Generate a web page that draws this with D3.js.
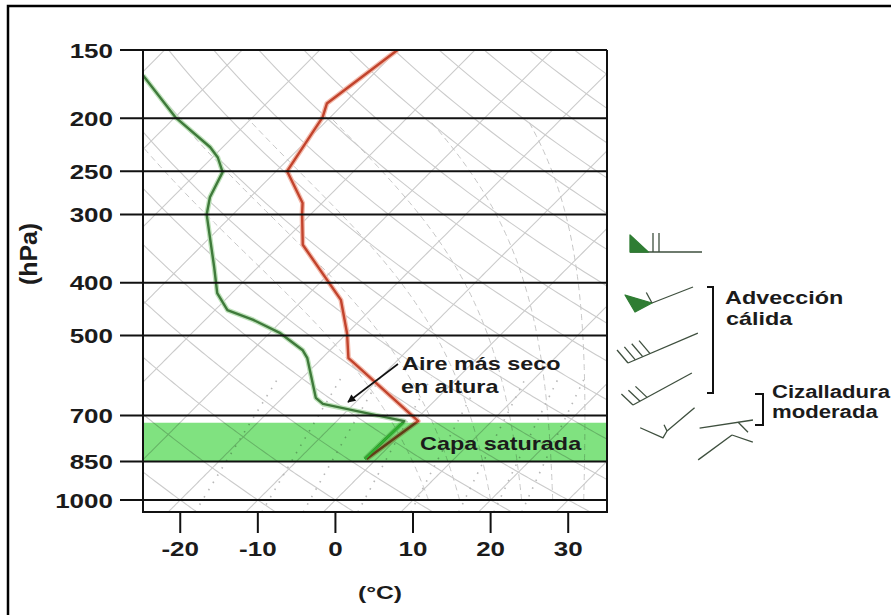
<!DOCTYPE html>
<html>
<head>
<meta charset="utf-8">
<script src="https://cdnjs.cloudflare.com/ajax/libs/d3/7.8.5/d3.min.js"></script>
<style>
body { margin: 0; background: #fff; }
svg text { font-family: "Liberation Sans", Arial, Helvetica, sans-serif; font-weight: bold; fill: #1b1b1b; }
</style>
</head>
<body>
<div id="main"></div>
<script>
const ctx = {
    width: 891,
    height: 615,
    left: 143, right: 607, top: 50, bottom: 512,
    sx: 1.3   // el texto original esta estirado en horizontal
};

// ejes
const pressureLevels = [150, 200, 250, 300, 400, 500, 700, 850, 1000];
const tempTicks = [-20, -10, 0, 10, 20, 30];

// sondeo: temperatura (hPa, °C)
const tempP = [150, 188, 199, 250, 286, 300, 341, 430, 495, 550, 561, 717, 841];
const tempT = [-50.0, -52.2, -51.0, -48.6, -42.5, -41.1, -37.1, -25.1, -20.0, -16.6, -15.3, 0.5, -1.3];

// sondeo: punto de rocio (hPa, °C)
const dewP = [167, 199, 226, 236, 251, 279, 300, 374, 418, 449, 468, 495, 532, 550, 650, 667, 717, 841];
const dewT = [-79.5, -70.0, -61.6, -59.3, -56.8, -55.2, -53.4, -45.7, -41.9, -38.4, -33.8, -28.6, -23.5, -21.9, -15.7, -14.0, -1.3, -1.5];

// capa saturada (hPa)
const saturatedLayer = [722, 850];

// fondo del diagrama
const isotherms = d3.range(-140, 50, 10);
const dryAdiabats = d3.range(-60, 200, 10);      // theta en °C
const moistAdiabats = [12, 16, 20, 24, 28, 32];   // °C a 1000 hPa
const mixingRatios = [1, 2, 3, 5, 8, 12, 16, 20]; // g/kg

// barbas de viento: cola, angulo del asta, largo, y trazos [angulo relativo, largo]
const barbs = [
    {x: 630, y: 252, ang: 0, len: 72, feats: [
        {at: 0, segs: [[-90, 17], [43, 25]], fill: true},
        {at: 23, segs: [[-90, 19]]}, {at: 29, segs: [[-90, 19]]}]},
    {x: 652, y: 303, ang: -21.3, len: 44, feats: [
        {at: 0, segs: [[173.4, 19.2], [-99.2, 19.7]], fill: true},
        {at: 0, segs: [[-97, 12]]}]},
    {x: 628, y: 363, ang: -23.2, len: 76, feats: [
        {at: 0, segs: [[-107, 17]]}, {at: 8, segs: [[-107, 17]]},
        {at: 16, segs: [[-107, 17]]}, {at: 24, segs: [[-107, 17]]}]},
    {x: 633, y: 405, ang: -28.5, len: 67, feats: [
        {at: 0, segs: [[-108, 16]]}, {at: 8, segs: [[-108, 16]]}, {at: 16, segs: [[-108, 16]]}]},
    {x: 667, y: 431, ang: -40, len: 36, feats: [
        {at: 0, segs: [[160, 8], [-116, 25]]}, {at: 0, segs: [[-75, 7]]}]},
    {x: 753, y: 420, ang: 171.4, len: 54, feats: [
        {at: 15, segs: [[-126, 14]]}]},
    {x: 732, y: 435, ang: 143.7, len: 42, feats: [
        {at: 0, segs: [[-125, 22]]}]}
];

function createViz() {
    const svg = d3.select("#main").append("svg")
        .attr("width", ctx.width)
        .attr("height", ctx.height);

    const x = d3.scaleLinear().domain([-24.8, 35]).range([ctx.left, ctx.right]);
    const y = d3.scaleLog().domain([150, 1000]).range([ctx.top, 500]);
    const pBottom = y.invert(ctx.bottom);

    // skew-T: isotermas a 45 grados
    const skewX = (t, p) => x(t) + (y(1000) - y(p));

    svg.append("defs").append("clipPath").attr("id", "plotClip")
        .append("rect")
        .attr("x", ctx.left).attr("y", ctx.top)
        .attr("width", ctx.right - ctx.left).attr("height", ctx.bottom - ctx.top);
    svg.select("defs").append("clipPath").attr("id", "bandClip")
        .append("rect")
        .attr("x", ctx.left).attr("y", y(saturatedLayer[0]))
        .attr("width", ctx.right - ctx.left).attr("height", y(saturatedLayer[1]) - y(saturatedLayer[0]));

    svg.append("rect").attr("x", 8).attr("y", 6).attr("width", 1000).attr("height", 1000)
        .attr("fill", "#fff").attr("stroke", "#000").attr("stroke-width", 2.5);

    const plot = svg.append("g").attr("clip-path", "url(#plotClip)");
    const line = d3.line().x(d => skewX(d.t, d.p)).y(d => y(d.p));
    const pSteps = d3.range(pBottom, 140, -5);

    // isotermas
    plot.selectAll(".iso").data(isotherms).enter().append("path")
        .attr("d", t => line(pSteps.map(p => ({t: t, p: p}))))
        .attr("fill", "none").attr("stroke", "#cbcbcb").attr("stroke-width", 1.1);

    // adiabaticas secas
    plot.selectAll(".dry").data(dryAdiabats).enter().append("path")
        .attr("d", th => line(pSteps.map(p => ({t: (th + 273.15) * Math.pow(p / 1000, 0.286) - 273.15, p: p}))))
        .attr("fill", "none").attr("stroke", "#cbcbcb").attr("stroke-width", 1.1);

    // adiabaticas saturadas
    function moistLapse(T, p) {
        const Rd = 287.04, cp = 1005.7, Lv = 2.501e6, eps = 0.622;
        const tc = T - 273.15;
        const es = 6.112 * Math.exp(17.67 * tc / (tc + 243.5));
        const rs = eps * es / (p - es);
        return (1 / p) * (Rd * T + Lv * rs) / (cp + (Lv * Lv * rs * eps) / (Rd * T * T));
    }
    plot.selectAll(".moist").data(moistAdiabats).enter().append("path")
        .attr("d", t0 => {
            let T = t0 + 273.15, pts = [];
            for (let p = 1000; p >= 200; p -= 5) {
                pts.push({t: T - 273.15, p: p});
                T -= 5 * moistLapse(T, p);
            }
            return line(pts);
        })
        .attr("fill", "none").attr("stroke", "#c6c6c6").attr("stroke-width", 1)
        .attr("stroke-dasharray", "6,4");

    // razon de mezcla
    plot.selectAll(".mix").data(mixingRatios).enter().append("path")
        .attr("d", w => line(d3.range(pBottom, 595, -5).map(p => {
            const es = (w / 1000) * p / (0.622 + w / 1000);
            const l = Math.log(es / 6.112);
            return {t: 243.5 * l / (17.67 - l), p: p};
        })))
        .attr("fill", "none").attr("stroke", "#b8b8b8").attr("stroke-width", 1.6)
        .attr("stroke-dasharray", "1.5,7");

    // perfiles
    const tempData = tempP.map((p, i) => ({p: p, t: tempT[i]}));
    const dewData = dewP.map((p, i) => ({p: p, t: dewT[i]}));

    plot.append("path").attr("d", line(dewData)).attr("fill", "none")
        .attr("stroke", "#bfe2bb").attr("stroke-width", 5).attr("stroke-linejoin", "round");
    plot.append("path").attr("d", line(tempData)).attr("fill", "none")
        .attr("stroke", "#f3bcae").attr("stroke-width", 5).attr("stroke-linejoin", "round");
    plot.append("path").attr("d", line(dewData)).attr("fill", "none")
        .attr("stroke", "#3f7a3b").attr("stroke-width", 2.4).attr("stroke-linejoin", "round");
    plot.append("path").attr("d", line(tempData)).attr("fill", "none")
        .attr("stroke", "#c2432c").attr("stroke-width", 2.4).attr("stroke-linejoin", "round");

    // capa saturada
    plot.append("rect")
        .attr("x", ctx.left).attr("y", y(saturatedLayer[0]))
        .attr("width", ctx.right - ctx.left)
        .attr("height", y(saturatedLayer[1]) - y(saturatedLayer[0]))
        .attr("fill", "rgb(128,226,128)")
        .style("mix-blend-mode", "multiply");
    plot.append("path").attr("d", line(dewData)).attr("fill", "none")
        .attr("clip-path", "url(#bandClip)")
        .attr("stroke", "#2fb02f").attr("stroke-width", 2.2);

    // isobaras
    svg.selectAll(".isobar").data(pressureLevels).enter().append("line")
        .attr("x1", 120).attr("x2", ctx.right)
        .attr("y1", d => y(d)).attr("y2", d => y(d))
        .attr("stroke", "#111").attr("stroke-width", 2);

    // marco del diagrama
    svg.append("path")
        .attr("d", `M${ctx.left},${ctx.top}V${ctx.bottom}H${ctx.right}V${ctx.top}`)
        .attr("fill", "none").attr("stroke", "#111").attr("stroke-width", 2);

    // ticks eje x
    svg.selectAll(".xtick").data(tempTicks).enter().append("line")
        .attr("x1", d => x(d)).attr("x2", d => x(d))
        .attr("y1", ctx.bottom).attr("y2", ctx.bottom + 21)
        .attr("stroke", "#111").attr("stroke-width", 2);

    function label(sel, px, py, txt, anchor, size, sx) {
        return sel.append("text")
            .attr("transform", `translate(${px},${py}) scale(${sx || ctx.sx},1)`)
            .attr("text-anchor", anchor)
            .style("font-size", size + "px")
            .text(txt);
    }

    pressureLevels.forEach(p => label(svg, 113, y(p) + 7.5, p, "end", 20));
    tempTicks.forEach(t => label(svg, x(t), 556, t, "middle", 20));
    label(svg, 380, 599, "(°C)", "middle", 19);

    svg.append("text")
        .attr("transform", "translate(37,254) rotate(-90) scale(1.38,1.3)")
        .attr("text-anchor", "middle").style("font-size", "18px")
        .text("(hPa)");

    // anotaciones
    label(svg, 402, 370, "Aire más seco", "start", 18);
    label(svg, 401, 393, "en altura", "start", 18);
    label(svg, 420, 450, "Capa saturada", "start", 18);
    label(svg, 725, 304, "Advección", "start", 18);
    label(svg, 726, 325, "cálida", "start", 18);
    label(svg, 772, 398, "Cizalladura", "start", 18, 1.23);
    label(svg, 772, 418, "moderada", "start", 18, 1.23);

    svg.append("defs").append("marker").attr("id", "arrow")
        .attr("viewBox", "0 0 10 10").attr("refX", 9).attr("refY", 5)
        .attr("markerWidth", 10).attr("markerHeight", 8).attr("markerUnits", "userSpaceOnUse")
        .attr("orient", "auto")
        .append("path").attr("d", "M0,0L10,5L0,10Z").attr("fill", "#111");
    svg.append("line")
        .attr("x1", 398).attr("y1", 364).attr("x2", 348).attr("y2", 402)
        .attr("stroke", "#111").attr("stroke-width", 1.6)
        .attr("marker-end", "url(#arrow)");

    // corchetes
    svg.append("path").attr("d", "M707,287H713V393H707")
        .attr("fill", "none").attr("stroke", "#111").attr("stroke-width", 2);
    svg.append("path").attr("d", "M755,394H763V425H755")
        .attr("fill", "none").attr("stroke", "#111").attr("stroke-width", 2);

    // barbas de viento
    const rad = Math.PI / 180;
    barbs.forEach(b => {
        const ux = Math.cos(b.ang * rad), uy = Math.sin(b.ang * rad);
        const g = svg.append("g");
        g.append("line")
            .attr("x1", b.x).attr("y1", b.y)
            .attr("x2", b.x + b.len * ux).attr("y2", b.y + b.len * uy)
            .attr("stroke", "#3e4f3e").attr("stroke-width", 1.3);
        b.feats.forEach(f => {
            let px = b.x + f.at * ux, py = b.y + f.at * uy;
            const pts = [[px, py]];
            f.segs.forEach(s => {
                const a = (b.ang + s[0]) * rad;
                px += s[1] * Math.cos(a);
                py += s[1] * Math.sin(a);
                pts.push([px, py]);
            });
            g.append("path")
                .attr("d", d3.line()(pts) + (f.fill ? "Z" : ""))
                .attr("fill", f.fill ? "#2f7d33" : "none")
                .attr("stroke", f.fill ? "#2f7d33" : "#3e4f3e")
                .attr("stroke-width", 1.3).attr("stroke-linejoin", "round");
        });
    });
}

createViz();
</script>
</body>
</html>
